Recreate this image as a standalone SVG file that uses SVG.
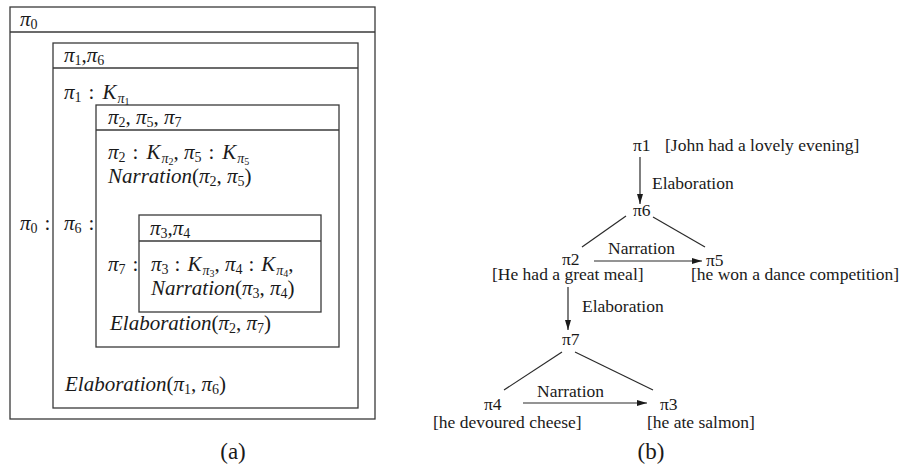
<svg xmlns="http://www.w3.org/2000/svg" width="900" height="468" viewBox="0 0 900 468">
<defs>
<style>
.box{fill:none;stroke:#3a3a3a;stroke-width:1.3}
.m{font-family:"Liberation Serif","Times New Roman",serif;font-size:21px;fill:#1a1a1a}
.i{font-style:italic}
.s{font-size:14px}
.ss{font-size:10px}
.r{font-family:"Liberation Serif","Times New Roman",serif;font-size:17.5px;fill:#1a1a1a}
.cap{font-family:"Liberation Serif",serif;font-size:23px;fill:#1a1a1a}
.ln{stroke:#2a2a2a;stroke-width:1.2;fill:none}
</style>
<marker id="ah" viewBox="0 0 10 6" refX="10" refY="3" markerWidth="10" markerHeight="6" markerUnits="userSpaceOnUse" orient="auto">
<path d="M0,0 L10,3 L0,6 z" fill="#1a1a1a"/>
</marker>
</defs>

<g id="box-pi0">
<rect class="box" x="10" y="7" width="365" height="412"/>
<line class="box" x1="10" y1="32" x2="375" y2="32"/>
<text class="m" x="20" y="26"><tspan class="i">π</tspan><tspan class="s" dy="3">0</tspan></text>
<text class="m" x="20" y="230"><tspan class="i">π</tspan><tspan class="s" dy="3">0</tspan><tspan dy="-3" dx="7">:</tspan></text>
</g>

<g id="box-pi1-pi6">
<rect class="box" x="53" y="43" width="305" height="365"/>
<line class="box" x1="53" y1="68" x2="358" y2="68"/>
<text class="m" x="64" y="62"><tspan class="i">π</tspan><tspan class="s" dy="3">1</tspan><tspan dy="-3">,</tspan><tspan class="i">π</tspan><tspan class="s" dy="3">6</tspan></text>
<text class="m" x="64" y="99"><tspan class="i">π</tspan><tspan class="s" dy="3">1</tspan><tspan dy="-3" dx="7">:</tspan><tspan class="i" dx="8">K</tspan><tspan class="s i" dy="4" dx="1">π</tspan><tspan class="ss" dy="2">1</tspan></text>
<text class="m" x="64" y="230"><tspan class="i">π</tspan><tspan class="s" dy="3">6</tspan><tspan dy="-3" dx="7">:</tspan></text>
<text class="m" x="65" y="391"><tspan class="i">Elaboration</tspan>(<tspan class="i">π</tspan><tspan class="s" dy="3">1</tspan><tspan dy="-3">, </tspan><tspan class="i">π</tspan><tspan class="s" dy="3">6</tspan><tspan dy="-3">)</tspan></text>
</g>

<g id="box-pi2-pi5-pi7">
<rect class="box" x="96" y="105" width="243" height="242"/>
<line class="box" x1="96" y1="130" x2="339" y2="130"/>
<text class="m" x="108" y="124"><tspan class="i">π</tspan><tspan class="s" dy="3">2</tspan><tspan dy="-3">, </tspan><tspan class="i">π</tspan><tspan class="s" dy="3">5</tspan><tspan dy="-3">, </tspan><tspan class="i">π</tspan><tspan class="s" dy="3">7</tspan></text>
<text class="m" x="108" y="159"><tspan class="i">π</tspan><tspan class="s" dy="3">2</tspan><tspan dy="-3" dx="7">:</tspan><tspan class="i" dx="8">K</tspan><tspan class="s i" dy="4" dx="1">π</tspan><tspan class="ss" dy="2">2</tspan><tspan dy="-6">, </tspan><tspan class="i">π</tspan><tspan class="s" dy="3">5</tspan><tspan dy="-3" dx="7">:</tspan><tspan class="i" dx="8">K</tspan><tspan class="s i" dy="4" dx="1">π</tspan><tspan class="ss" dy="2">5</tspan></text>
<text class="m" x="108" y="183"><tspan class="i">Narration</tspan>(<tspan class="i">π</tspan><tspan class="s" dy="3">2</tspan><tspan dy="-3">, </tspan><tspan class="i">π</tspan><tspan class="s" dy="3">5</tspan><tspan dy="-3">)</tspan></text>
<text class="m" x="108" y="271"><tspan class="i">π</tspan><tspan class="s" dy="3">7</tspan><tspan dy="-3" dx="7">:</tspan></text>
<text class="m" x="110" y="330"><tspan class="i">Elaboration</tspan>(<tspan class="i">π</tspan><tspan class="s" dy="3">2</tspan><tspan dy="-3">, </tspan><tspan class="i">π</tspan><tspan class="s" dy="3">7</tspan><tspan dy="-3">)</tspan></text>
</g>

<g id="box-pi3-pi4">
<rect class="box" x="139" y="215" width="182" height="97"/>
<line class="box" x1="139" y1="241" x2="321" y2="241"/>
<text class="m" x="150" y="235"><tspan class="i">π</tspan><tspan class="s" dy="3">3</tspan><tspan dy="-3">,</tspan><tspan class="i">π</tspan><tspan class="s" dy="3">4</tspan></text>
<text class="m" x="151" y="271"><tspan class="i">π</tspan><tspan class="s" dy="3">3</tspan><tspan dy="-3" dx="6">:</tspan><tspan class="i" dx="7">K</tspan><tspan class="s i" dy="4" dx="1">π</tspan><tspan class="ss" dy="2">3</tspan><tspan dy="-6">, </tspan><tspan class="i">π</tspan><tspan class="s" dy="3">4</tspan><tspan dy="-3" dx="6">:</tspan><tspan class="i" dx="7">K</tspan><tspan class="s i" dy="4" dx="1">π</tspan><tspan class="ss" dy="2">4</tspan><tspan dy="-6">,</tspan></text>
<text class="m" x="151" y="295"><tspan class="i">Narration</tspan>(<tspan class="i">π</tspan><tspan class="s" dy="3">3</tspan><tspan dy="-3">, </tspan><tspan class="i">π</tspan><tspan class="s" dy="3">4</tspan><tspan dy="-3">)</tspan></text>
</g>

<text class="cap" x="233" y="459" text-anchor="middle">(a)</text>

<g id="connectors">
<line class="ln" x1="640" y1="157" x2="640" y2="204" marker-end="url(#ah)"/>
<line class="ln" x1="626" y1="216" x2="582" y2="247"/>
<line class="ln" x1="653" y1="217" x2="705" y2="247"/>
<line class="ln" x1="594" y1="261" x2="702" y2="261" marker-end="url(#ah)"/>
<line class="ln" x1="568" y1="287" x2="568" y2="330" marker-end="url(#ah)"/>
<line class="ln" x1="562" y1="352" x2="504" y2="390"/>
<line class="ln" x1="575" y1="352" x2="653" y2="390"/>
<line class="ln" x1="523" y1="403" x2="647" y2="403" marker-end="url(#ah)"/>
<text class="r" x="652" y="189">Elaboration</text>
<text class="r" x="608" y="254">Narration</text>
<text class="r" x="582" y="312">Elaboration</text>
<text class="r" x="537" y="397">Narration</text>
</g>

<g id="node-pi1">
<text class="r" x="633" y="151">π1</text>
<text class="r" x="665" y="151">[John had a lovely evening]</text>
</g>
<g id="node-pi6">
<text class="r" x="633" y="216">π6</text>
</g>
<g id="node-pi2">
<text class="r" x="562" y="265">π2</text>
<text class="r" x="492" y="280">[He had a great meal]</text>
</g>
<g id="node-pi5">
<text class="r" x="706" y="266">π5</text>
<text class="r" x="691" y="280">[he won a dance competition]</text>
</g>
<g id="node-pi7">
<text class="r" x="562" y="345">π7</text>
</g>
<g id="node-pi4">
<text class="r" x="484" y="410">π4</text>
<text class="r" x="433" y="428">[he devoured cheese]</text>
</g>
<g id="node-pi3">
<text class="r" x="660" y="410">π3</text>
<text class="r" x="647" y="428">[he ate salmon]</text>
</g>

<text class="cap" x="651" y="459" text-anchor="middle">(b)</text>
</svg>
